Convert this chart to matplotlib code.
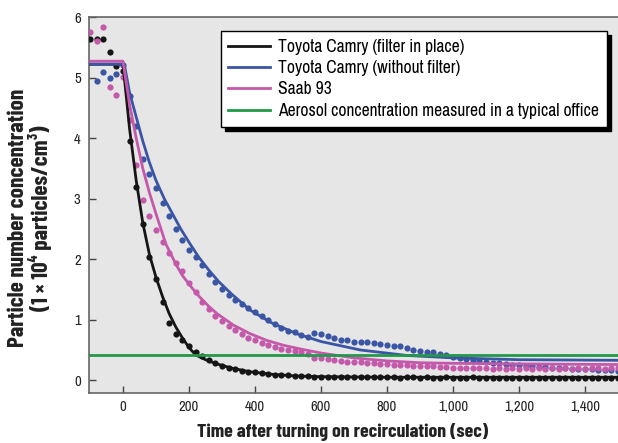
import numpy as np
import matplotlib
matplotlib.use("Agg")
from matplotlib import pyplot as plt
from matplotlib.ticker import FuncFormatter

plt.rcParams['font.family'] = ['Archivo Narrow', 'DejaVu Sans']
BOLD_FONT = ['Barlow Condensed', 'DejaVu Sans']

# measured points, every 20 s
dot_times = list(range(-100, 1501, 20))

black_dots = [5.64, 5.63, 5.64, 5.42, 5.19, 5.1, 3.95, 3.2, 2.58, 2.03,
              1.68, 1.3, 0.95, 0.77, 0.66, 0.56, 0.47, 0.4, 0.33, 0.28,
              0.24, 0.21, 0.19, 0.16, 0.14, 0.13, 0.12, 0.1, 0.09, 0.08,
              0.08, 0.07, 0.07, 0.07, 0.06, 0.06, 0.06, 0.06, 0.05, 0.06,
              0.05, 0.05, 0.05, 0.05, 0.05, 0.05, 0.05, 0.04, 0.05, 0.05,
              0.04, 0.05, 0.04, 0.04, 0.05, 0.04, 0.04, 0.04, 0.05, 0.04,
              0.04, 0.04, 0.04, 0.04, 0.04, 0.04, 0.04, 0.04, 0.04, 0.04,
              0.04, 0.04, 0.04, 0.04, 0.04, 0.04, 0.04, 0.04, 0.04, 0.04,
              0.04]

blue_dots = [np.nan, 4.95, 5.09, 5.0, 5.06, 5.2, 4.7, 4.2, 3.66, 3.40,
             3.17, 2.93, 2.72, 2.5, 2.32, 2.15, 2.04, 1.9, 1.76, 1.62,
             1.5, 1.41, 1.33, 1.26, 1.19, 1.13, 1.06, 1.0, 0.93, 0.86,
             0.82, 0.79, 0.75, 0.71, 0.78, 0.76, 0.73, 0.7, 0.67, 0.66,
             0.64, 0.64, 0.63, 0.62, 0.6, 0.59, 0.57, 0.56, 0.54, 0.5,
             0.48, 0.47, 0.46, 0.43, 0.41, 0.39, 0.37, 0.35, 0.33, 0.32,
             0.3, 0.29, 0.28, 0.27, 0.26, 0.25, 0.24, 0.23, 0.22, 0.22,
             0.21, 0.2, 0.2, 0.19, 0.19, 0.18, 0.18, 0.17, 0.17, 0.17,
             0.16]

pink_dots = [5.75, 5.61, 5.83, 4.84, 4.72, 5.01, 4.3, 3.55, 2.97, 2.71,
             2.48, 2.28, 2.1, 1.93, 1.8, 1.6, 1.46, 1.3, 1.17, 1.06,
             0.98, 0.89, 0.83, 0.76, 0.7, 0.67, 0.62, 0.58, 0.55, 0.52,
             0.5, 0.48, 0.46, 0.44, 0.37, 0.36, 0.35, 0.33, 0.32, 0.31,
             0.31, 0.3, 0.29, 0.28, 0.27, 0.27, 0.26, 0.25, 0.25, 0.24,
             0.24, 0.23, 0.23, 0.22, 0.22, 0.21, 0.21, 0.2, 0.2, 0.2,
             0.2, 0.19, 0.2, 0.19, 0.2, 0.19, 0.2, 0.19, 0.2, 0.19,
             0.2, 0.19, 0.2, 0.19, 0.2, 0.19, 0.2, 0.2, 0.19, 0.2,
             0.2]

# fitted curves
black_fit_t = [-103, 0, 20, 40, 60, 80, 100, 120, 140, 160, 180, 200, 220,
               250, 285, 330, 385, 450, 525, 600, 800, 1000, 1500]
black_fit_v = [5.22, 5.22, 4.15, 3.3, 2.6, 2.08, 1.7, 1.38, 1.1, 0.88, 0.7,
               0.54, 0.42, 0.34, 0.27, 0.2, 0.14, 0.1, 0.07, 0.06, 0.05,
               0.05, 0.05]

blue_fit_t = [-103, 4, 20, 40, 60, 80, 100, 125, 150, 175, 200, 230, 260,
              290, 330, 385, 450, 526, 600, 720, 860, 1000, 1200, 1500]
blue_fit_v = [5.22, 5.22, 4.75, 4.35, 3.95, 3.6, 3.3, 3.0, 2.75, 2.5, 2.28,
              2.03, 1.82, 1.63, 1.42, 1.16, 0.95, 0.77, 0.64, 0.5, 0.41,
              0.37, 0.34, 0.33]

pink_fit_t = [-103, 0, 20, 40, 60, 80, 100, 130, 160, 180, 210, 230, 260,
              285, 335, 385, 435, 485, 535, 600, 700, 800, 900, 1000, 1200,
              1500]
pink_fit_v = [5.27, 5.27, 4.55, 4.0, 3.5, 3.1, 2.75, 2.25, 1.92, 1.73, 1.52,
              1.39, 1.22, 1.1, 0.91, 0.77, 0.66, 0.58, 0.52, 0.45, 0.37,
              0.32, 0.29, 0.28, 0.27, 0.26]

office_level = 0.41

labels = ["Toyota Camry (filter in place)", "Toyota Camry (without filter)",
          "Saab 93", "Aerosol concentration measured in a typical office"]

BLACK = "#151515"
BLUE = "#3b55a5"
PINK = "#c458aa"
GREEN = "#22994a"

fig = plt.figure(figsize=(6.18, 4.43), dpi=100)
ax = fig.add_axes([89 / 618, 50 / 443, 1 - 89 / 618, 376 / 443])
ax.set_facecolor("#e6e6e6")

ms = 20
ax.scatter(dot_times, black_dots, s=ms, color=BLACK, lw=0, zorder=3)
ax.scatter(dot_times, blue_dots, s=ms, color=BLUE, lw=0, zorder=3)
ax.scatter(dot_times, pink_dots, s=ms, color=PINK, lw=0, zorder=3)

lw = 2.0
ax.plot(black_fit_t, black_fit_v, color=BLACK, lw=lw, label=labels[0], zorder=4)
ax.plot(blue_fit_t, blue_fit_v, color=BLUE, lw=lw, label=labels[1], zorder=4)
ax.plot(pink_fit_t, pink_fit_v, color=PINK, lw=lw, label=labels[2], zorder=4)
ax.axhline(office_level, color=GREEN, lw=lw, label=labels[3], zorder=4)

ax.set_xlim(-103, 1500)
ax.set_ylim(-0.21, 6)
ax.set_xticks(range(0, 1401, 200))
ax.set_yticks(range(0, 7))
ax.xaxis.set_major_formatter(FuncFormatter(lambda v, p: f"{int(v):,}"))

ax.spines["right"].set_visible(False)
for side in ["left", "bottom", "top"]:
    ax.spines[side].set_color("#666666")
    ax.spines[side].set_linewidth(1.2)
ax.tick_params(direction="in", length=5, width=1, color="#444444",
               labelsize=10.5, labelcolor="#222222")
ax.tick_params(axis="y", pad=6)
ax.tick_params(axis="x", pad=5)

ax_w = 618 - 89
ax_h = 376
ax.set_xlabel("Time after turning on recirculation (sec)", fontsize=14.3,
              fontweight="bold", family=BOLD_FONT, color="#222222")
ax.xaxis.set_label_coords((343 - 89) / ax_w, -(432 - 393) / ax_h)
ax.xaxis.label.set_va("center")
ax.set_ylabel("Particle number concentration\n(1 × 10⁴ particles/cm³)",
              fontsize=16.8, fontweight="bold", family=BOLD_FONT, color="#222222",
              linespacing=0.98)
ax.yaxis.set_label_coords(-(89 - 30) / ax_w, (380 - 205) / ax_h)
ax.yaxis.label.set_va("center")

leg = ax.legend(loc="upper right", bbox_to_anchor=((607 - 89) / ax_w, 1 - 14 / ax_h),
                bbox_transform=ax.transAxes, fontsize=12.6, frameon=True,
                fancybox=False, shadow={"color": "black", "alpha": 1, "ox": 3, "oy": -3},
                handlelength=2.4, handletextpad=0.45, labelspacing=0.3,
                borderpad=0.45, borderaxespad=0)
leg.get_frame().set_edgecolor("black")
leg.get_frame().set_linewidth(1.0)
leg.get_frame().set_alpha(1)

fig.savefig("out.png", dpi=100)
